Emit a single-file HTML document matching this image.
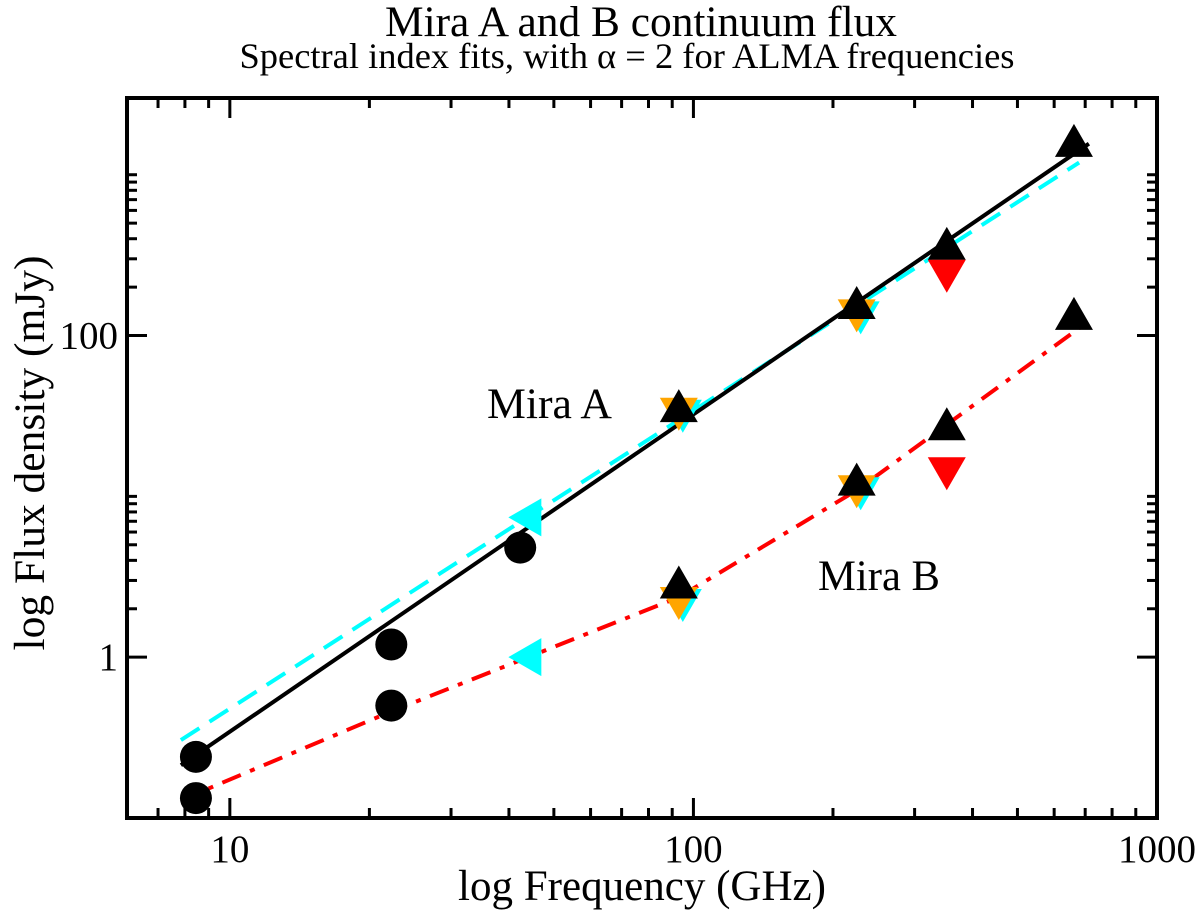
<!DOCTYPE html>
<html><head><meta charset="utf-8"><style>
body{margin:0;background:#fff}
svg text{font-family:"Liberation Serif",serif;fill:#000}
</style></head><body>
<svg id="chart" width="1200" height="912" viewBox="0 0 1200 912" xmlns="http://www.w3.org/2000/svg">
<text x="641" y="36" font-size="43" text-anchor="middle" textLength="512" lengthAdjust="spacingAndGlyphs">Mira A and B continuum flux</text>
<text x="627" y="68" font-size="36" text-anchor="middle" textLength="775" lengthAdjust="spacingAndGlyphs">Spectral index fits, with α = 2 for ALMA frequencies</text>
<text x="642" y="900" font-size="43" text-anchor="middle" textLength="368" lengthAdjust="spacingAndGlyphs">log Frequency (GHz)</text>
<text transform="translate(44,453) rotate(-90)" font-size="43" text-anchor="middle" textLength="395" lengthAdjust="spacingAndGlyphs">log Flux density (mJy)</text>
<text x="487" y="418" font-size="43" textLength="125" lengthAdjust="spacingAndGlyphs">Mira A</text>
<text x="818" y="590" font-size="43" textLength="122" lengthAdjust="spacingAndGlyphs">Mira B</text>
<g id="lines"></g><g id="marks"></g><g id="axes"></g>
</svg>
<script>
const xTickVals=[10,100,1000];
const xTickLabels=["10","100","1000"];
const yTickVals=[1,100];
const yTickLabels=["1","100"];
const blackFitFreq=[7.84,713];
const blackFitFlux=[0.213,1560];
const cyanFitFreq=[7.84,679];
const cyanFitFlux=[0.305,1190];
const redFitFreq=[7.84,22.3,44,93,225,690];
const redFitFlux=[0.129,0.46,1.0,2.36,10.9,115];
const circleFreq=[8.45,8.45,22.3,22.3,42.3];
const circleFlux=[0.24,0.133,1.2,0.5,4.8];
const leftTriFreq=[44,44];
const leftTriFlux=[7.4,1.0];
const orangeFreq=[93,93,225,225];
const orangeFlux=[34,2.26,139,11.2];
const upTriFreq=[93,93,225,225,352,352,662,662];
const upTriFlux=[35,2.8,153,12.2,357,27,1560,131];
const redDownFreq=[352,352];
const redDownFlux=[245,14.5];

const L=127,R=1157,T=98,B=818;
const xmin=6,xmax=1000,ymin=0.1,ymax=3000;
const X=f=>L+(Math.log10(f)-Math.log10(xmin))/(Math.log10(xmax)-Math.log10(xmin))*(R-L);
const Y=v=>B-(Math.log10(v)-Math.log10(ymin))/(Math.log10(ymax)-Math.log10(ymin))*(B-T);
const NS="http://www.w3.org/2000/svg";
function mk(tag,parent,attrs){const e=document.createElementNS(NS,tag);for(const k in attrs)e.setAttribute(k,attrs[k]);document.getElementById(parent).appendChild(e);return e;}
function poly(fs,vs,color,dash,name){
  const p=fs.map((f,i)=>X(f).toFixed(1)+","+Y(vs[i]).toFixed(1)).join(" ");
  const e=mk("polyline","lines",{points:p,fill:"none",stroke:color,"stroke-width":4,"stroke-dasharray":dash});
  
  
}
poly(cyanFitFreq,cyanFitFlux,"#00ffff","22,12","mira-a-cyan-fit");
poly(blackFitFreq,blackFitFlux,"#000","none","mira-a-black-fit");
poly(redFitFreq,redFitFlux,"#ff0000","20,10,5,10","mira-b-red-fit");
function tri(x,y,dir,color,name){
  const w=19,h=33;let p;
  if(dir==="up")p=[[x,y-h*0.6],[x-w,y+h*0.4],[x+w,y+h*0.4]];
  else if(dir==="down")p=[[x,y+h*0.6],[x-w,y-h*0.4],[x+w,y-h*0.4]];
  else p=[[x-h*0.6,y],[x+h*0.4,y-w],[x+h*0.4,y+w]];
  const e=mk("polygon","marks",{points:p.map(q=>q.join(",")).join(" "),fill:color});
  
  
}
circleFreq.forEach((f,i)=>{const e=mk("ellipse","marks",{cx:X(f),cy:Y(circleFlux[i]),rx:16,ry:16,fill:"#000"});
  
  });
leftTriFreq.forEach((f,i)=>tri(X(f),Y(leftTriFlux[i]),"left","#00ffff","cyan-left-triangle"));
orangeFreq.forEach((f,i)=>{tri(X(f)+4,Y(orangeFlux[i])+2,"down","#00ffff","cyan-down-triangle");tri(X(f),Y(orangeFlux[i]),"down","#ffa500","orange-down-triangle");});
upTriFreq.forEach((f,i)=>tri(X(f),Y(upTriFlux[i]),"up","#000","black-up-triangle"));
redDownFreq.forEach((f,i)=>tri(X(f),Y(redDownFlux[i]),"down","#ff0000","red-down-triangle"));
const fr=mk("rect","axes",{x:L,y:T,width:R-L,height:B-T,fill:"none",stroke:"#000","stroke-width":4});


function ln(x1,y1,x2,y2){const e=mk("line","axes",{x1,y1,x2,y2,stroke:"#000","stroke-width":3});
  
  }
for(let d=1;d<=1000;d*=10)for(let m=1;m<10;m++){const f=d*m;if(f<xmin||f>xmax)continue;const x=X(f);const len=m===1?20:10;ln(x,B,x,B-len);ln(x,T,x,T+len);}
const yMinor=[2,3,4,5,6,7,8,9,10,200,300,400,500,600,700,800,900,1000];
yMinor.forEach(v=>{const y=Y(v);ln(L,y,L+10,y);ln(R,y,R-10,y);});
yTickVals.forEach(v=>{const y=Y(v);ln(L,y,L+20,y);ln(R,y,R-20,y);});
xTickVals.forEach((v,i)=>{const t=mk("text","axes",{x:X(v),y:B+44,"font-size":39,"text-anchor":"middle"});t.textContent=xTickLabels[i];
  
  });
yTickVals.forEach((v,i)=>{const t=mk("text","axes",{x:L-9,y:Y(v)+13,"font-size":39,"text-anchor":"end"});t.textContent=yTickLabels[i];
  
  });
</script>
</body></html>
